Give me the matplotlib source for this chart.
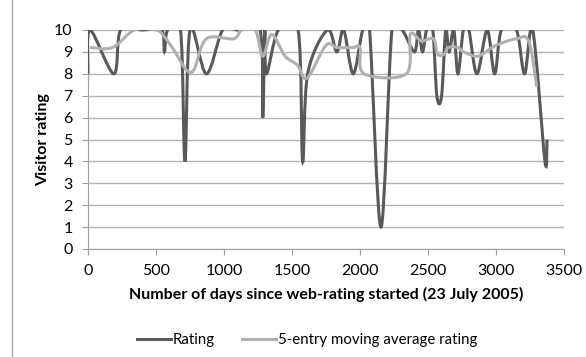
import numpy as np
import matplotlib
matplotlib.use("Agg")
import matplotlib.pyplot as plt
from matplotlib.path import Path
from matplotlib.patches import PathPatch
from matplotlib.lines import Line2D

plt.rcParams["font.family"] = ["Lato", "DejaVu Sans"]

# rating entries (day since 23 July 2005, rating)
rating_days = [0, 15, 190, 240, 400, 540, 562, 585, 680, 713, 750, 870, 990, 1100,
               1265, 1285, 1300, 1312, 1400, 1545, 1578, 1615, 1760, 1830, 1880,
               1950, 2020, 2070, 2154, 2235, 2310, 2400, 2430, 2460, 2490, 2535, 2565,
               2600, 2630, 2655, 2690, 2720, 2760, 2800, 2860, 2935, 2990, 3040,
               3150, 3210, 3270, 3360, 3375]
rating_vals = [8, 10, 8, 10, 10, 10, 9, 10, 10, 4, 10, 8, 10, 10,
               10, 6, 10, 8, 10, 10, 4, 8, 10, 9, 10,
               8, 10, 10, 1, 10, 10, 9, 10, 9, 10, 10, 7,
               7, 10, 9, 10, 8, 10, 10, 8, 10, 8, 10,
               10, 8, 10, 4, 5]

# 5-entry moving average
avg_days = [15, 180, 340, 500, 560, 640, 720, 780, 870, 1070, 1130, 1230, 1285,
            1350, 1450, 1540, 1610, 1750, 1830, 1950, 2000, 2030, 2340, 2370,
            2450, 2540, 2570, 2620, 2650, 2720, 2760, 2850, 2900, 3000, 3150,
            3240, 3300]
avg_vals = [9.2, 9.2, 10, 10, 9.7, 9.0, 8.2, 8.2, 9.6, 9.6, 10, 10, 8.8,
            9.8, 8.8, 8.4, 7.8, 9.3, 9.2, 9.2, 9.2, 8.0, 8.0, 9.8,
            9.5, 9.6, 8.9, 8.9, 9.2, 9.2, 9.0, 8.8, 8.9, 9.3, 9.6,
            9.5, 7.4]

dark = "#595959"
light = "#b0b0b0"


def smooth_path(xs, ys):
    # excel-like smoothed line: catmull-rom segments as cubic beziers
    p = np.column_stack([xs, ys]).astype(float)
    verts = [p[0]]
    codes = [Path.MOVETO]
    n = len(p)
    for i in range(n - 1):
        p0 = p[i - 1] if i > 0 else p[i]
        p3 = p[i + 2] if i + 2 < n else p[i + 1]
        c1 = p[i] + (p[i + 1] - p0) / 6
        c2 = p[i + 1] - (p3 - p[i]) / 6
        verts += [c1, c2, p[i + 1]]
        codes += [Path.CURVE4] * 3
    return Path(verts, codes)


fig = plt.figure(figsize=(5.86, 3.57), dpi=100)
ax = fig.add_axes([88 / 586, 1 - 249 / 357, 476 / 586, 219 / 357])

ax.add_patch(PathPatch(smooth_path(rating_days, rating_vals), fill=False,
                       edgecolor=dark, lw=2.2, capstyle="butt", zorder=3))
ax.add_patch(PathPatch(smooth_path(avg_days, avg_vals), fill=False,
                       edgecolor=light, lw=2.2, capstyle="butt", zorder=4))

ax.set_xlim(0, 3500)
ax.set_ylim(0, 10)
ax.set_xticks(range(0, 3501, 500))
ax.set_yticks(range(0, 11))
ax.grid(axis="y", color="#b3b3b3", lw=1)
ax.set_axisbelow(True)
for s in ["top", "right"]:
    ax.spines[s].set_visible(False)
for s in ["left", "bottom"]:
    ax.spines[s].set_color("#a0a0a0")
ax.tick_params(axis="both", colors="#a0a0a0", labelcolor="black", labelsize=11.5,
               direction="out", length=4)
ax.tick_params(axis="y", pad=7)
ax.tick_params(axis="x", pad=7)

ax.set_xlabel("Number of days since web-rating started (23 July 2005)",
              fontsize=11.5, fontweight="bold", labelpad=6)
ax.set_ylabel("Visitor rating", fontsize=11.5, fontweight="bold", labelpad=3)

handles = [Line2D([], [], color=dark, lw=2.2), Line2D([], [], color=light, lw=2.2)]
fig.legend(handles, ["Rating", "5-entry moving average rating"], loc="center",
           bbox_to_anchor=(307 / 586, 1 - 340 / 357), ncol=2, frameon=False,
           fontsize=10.8, handlelength=2.3, handletextpad=0.1, columnspacing=1.8,
           borderpad=0, borderaxespad=0)

# chart frame edge visible on the left
fig.add_artist(Line2D([12 / 586, 12 / 586], [0, 1], transform=fig.transFigure,
                      color="#a8a8a8", lw=1))

fig.savefig("out.png", dpi=100)
